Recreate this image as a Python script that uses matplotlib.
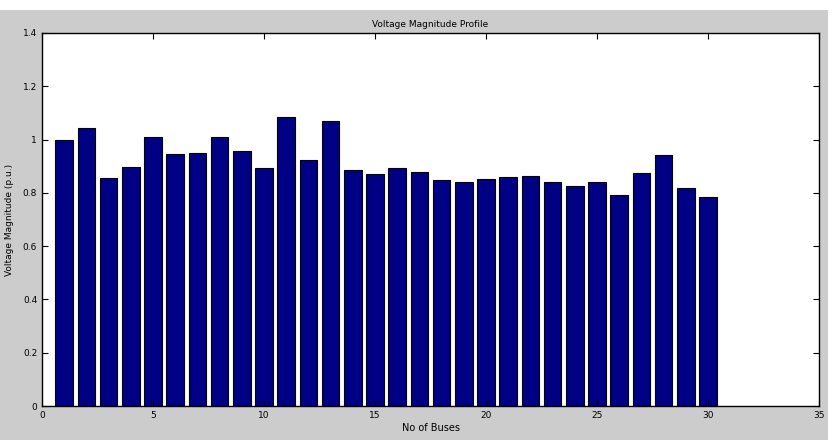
import numpy as np
import matplotlib.pyplot as plt
from matplotlib.patches import Rectangle

""" Voltage magnitude profile, 30 bus system """

buses = np.arange(1, 31)
vmag = [1.000, 1.043, 0.855, 0.897, 1.010, 0.945, 0.950, 1.010, 0.957, 0.893,
        1.084, 0.923, 1.069, 0.886, 0.871, 0.892, 0.878, 0.848, 0.841, 0.852,
        0.860, 0.863, 0.841, 0.826, 0.841, 0.792, 0.875, 0.942, 0.818, 0.785]

fig = plt.figure(figsize=(8.33, 4.4), dpi=100, facecolor='white')
# matlab grey figure area
fig.patches.append(Rectangle((0, 0), 828/833, 430/440, transform=fig.transFigure,
                             facecolor='#cccccc', edgecolor='none', zorder=-1))

ax = fig.add_axes([42/833, 34/440, 777/833, 373/440])
ax.bar(buses, vmag, width=0.8, color='#000085', edgecolor='black', linewidth=0.8)

ax.set_xlim(0, 35)
ax.set_ylim(0, 1.4)
ax.set_xticks(np.arange(0, 36, 5))
ax.set_yticks(np.arange(0, 1.41, 0.2))
ax.set_yticklabels(['0', '0.2', '0.4', '0.6', '0.8', '1', '1.2', '1.4'])
ax.tick_params(direction='in', top=True, right=True, labelsize=6.5, length=4, width=0.8)
for s in ax.spines.values():
    s.set_linewidth(1.0)

ax.set_title('Voltage Magnitude Profile', fontsize=6.5, pad=4)
ax.set_xlabel('No of Buses', fontsize=7, labelpad=2)
ax.set_ylabel('Voltage Magnitude (p.u.)', fontsize=6.5, labelpad=6)

plt.savefig('out.png', dpi=100)
